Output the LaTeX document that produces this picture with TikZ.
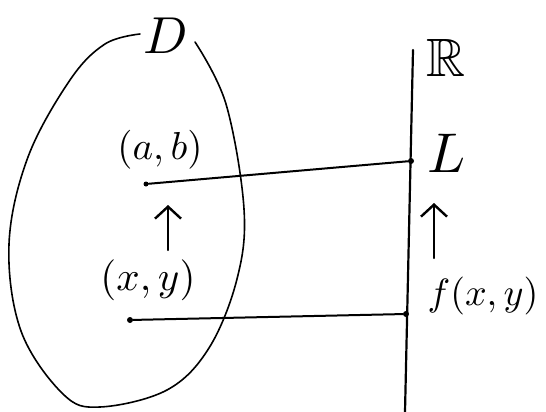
\documentclass[tikz,border=0pt]{standalone}
\usepackage{amsmath,amssymb}
\usetikzlibrary{arrows.meta}
\begin{document}
\begin{tikzpicture}[x=1pt,y=-1pt,line cap=round]
  \useasboundingbox (0,0) rectangle (546,412);
  \tikzset{
    pt/.style={circle,fill,inner sep=0pt,minimum size=6pt},
    lab/.style={inner sep=0pt},
    up/.style={-{Straight Barb[length=12pt,width=26pt]},line width=2.4pt}
  }
  % the set D
  \draw[line width=1.6pt] plot[smooth,tension=0.6] coordinates {
    (195,42) (226,104) (244,209) (237,279) (209,348) (167,390)
    (100,407) (63,394) (21,331) (9,244) (28,157) (70,80) (105,44) (140,34)};
  \node[lab] (D) at (166,36) {\scalebox{5.2}{$D$}};
  % the real line
  \coordinate (top) at (413,50);
  \coordinate (bot) at (405,412);
  \draw[line width=2.2pt] (top) -- (bot);
  \node[lab] (R) at (446,58) {\scalebox{5.4}{$\mathbb{R}$}};
  % points and their images
  \node[pt,minimum size=5pt] (ab) at (146,184) {};
  \node[pt] (L0) at (411,161) {};
  \node[pt] (xy) at (130,320) {};
  \node[pt] (fxy) at (406,314) {};
  \draw[line width=2pt] (ab) -- (L0);
  \draw[line width=2pt] (xy) -- (fxy);
  \node[lab] (abl) at (160,150) {\scalebox{3.9}{$(a,b)$}};
  \node[lab] (xyl) at (148,280) {\scalebox{4.1}{$(x,y)$}};
  \node[lab] (L) at (447,153) {\scalebox{5.6}{$L$}};
  \node[lab] (fl) at (483,296) {\scalebox{3.8}{$f(x,y)$}};
  % limits
  \coordinate (a1) at (168,250);
  \coordinate (a2) at (168,205);
  \coordinate (b1) at (434,258);
  \coordinate (b2) at (434,203);
  \draw[up] (a1) -- (a2);
  \draw[up] (b1) -- (b2);
\end{tikzpicture}
\end{document}
